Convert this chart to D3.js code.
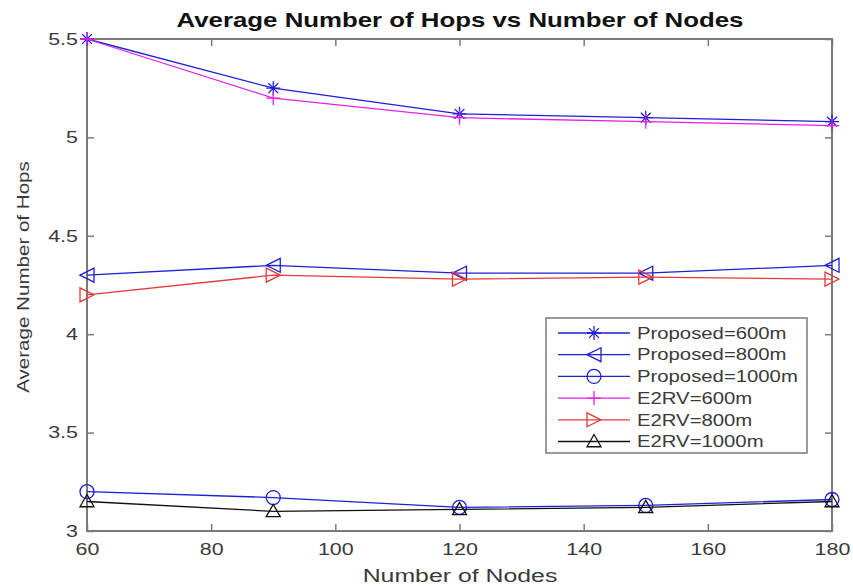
<!DOCTYPE html>
<html>
<head>
<meta charset="utf-8">
<script src="https://cdn.jsdelivr.net/npm/d3@7"></script>
<style>
  html, body { margin: 0; padding: 0; background: #fff; }
  svg { display: block; font-family: Arial, "Liberation Sans", Helvetica, sans-serif; }
</style>
</head>
<body>
<svg id="chart" width="853" height="587"></svg>
<script>
// Number of nodes on the x axis
const nodes = [60, 90, 120, 150, 180];

// Average number of hops per configuration
const proposed600 = [5.50, 5.25, 5.12, 5.10, 5.08];
const proposed800 = [4.30, 4.35, 4.31, 4.31, 4.35];
const proposed1000 = [3.20, 3.17, 3.12, 3.13, 3.16];
const e2rv600 = [5.50, 5.20, 5.10, 5.08, 5.06];
const e2rv800 = [4.20, 4.30, 4.28, 4.29, 4.28];
const e2rv1000 = [3.15, 3.10, 3.11, 3.12, 3.15];

const seriesNames = ["Proposed=600m", "Proposed=800m", "Proposed=1000m", "E2RV=600m", "E2RV=800m", "E2RV=1000m"];

const xTicks = [60, 80, 100, 120, 140, 160, 180];
const yTicks = [3, 3.5, 4, 4.5, 5, 5.5];

const series = [
  { name: seriesNames[0], values: proposed600, color: "#1f1fd6", marker: "star" },
  { name: seriesNames[1], values: proposed800, color: "#1f1fd6", marker: "triLeft" },
  { name: seriesNames[2], values: proposed1000, color: "#1f1fd6", marker: "circle" },
  { name: seriesNames[3], values: e2rv600, color: "#e620e6", marker: "plus" },
  { name: seriesNames[4], values: e2rv800, color: "#e23a3a", marker: "triRight" },
  { name: seriesNames[5], values: e2rv1000, color: "#111111", marker: "triUp" }
];

const svg = d3.select("#chart");
const m = { left: 87, right: 853 - 832, top: 39, bottom: 587 - 531 };
const W = 853 - m.left - m.right, H = 587 - m.top - m.bottom;

const x = d3.scaleLinear().domain([60, 180]).range([m.left, m.left + W]);
const y = d3.scaleLinear().domain([3, 5.5]).range([m.top + H, m.top]);

const axisColor = "#7a7a7a";
const textColor = "#3a3a3a";
const wide = 1.3; // horizontal stretch of the lettering

// axes box with inward ticks (bottom/left labelled, top/right unlabelled)
function styleAxis(g, labels, horizontal) {
  g.select(".domain").remove();
  g.selectAll(".tick line").attr("stroke", axisColor).attr("stroke-width", 1.5);
  const t = g.selectAll(".tick text");
  if (!labels) { t.remove(); return; }
  t.attr("fill", textColor)
    .style("font-size", "16.5px")
    .style("font-family", "Arial, 'Liberation Sans', sans-serif");
  if (horizontal) {
    t.attr("transform", `scale(${wide},1)`);
  } else {
    t.each(function () {
      const el = d3.select(this);
      const ox = +el.attr("x");
      el.attr("x", 0).attr("transform", `translate(${ox},0) scale(${wide},1)`);
    });
  }
}

const fmtY = d => (d % 1 === 0 ? d3.format("d")(d) : d3.format(".1f")(d));

svg.append("g").attr("transform", `translate(0,${m.top + H})`)
  .call(d3.axisBottom(x).tickValues(xTicks).tickSize(-7).tickPadding(12).tickFormat(d3.format("d")))
  .call(g => styleAxis(g, true, true));
svg.append("g").attr("transform", `translate(0,${m.top})`)
  .call(d3.axisTop(x).tickValues(xTicks).tickSize(-7).tickFormat(""))
  .call(g => styleAxis(g, false));
svg.append("g").attr("transform", `translate(${m.left},0)`)
  .call(d3.axisLeft(y).tickValues(yTicks).tickSize(-7).tickPadding(9).tickFormat(fmtY))
  .call(g => styleAxis(g, true, false));
svg.append("g").attr("transform", `translate(${m.left + W},0)`)
  .call(d3.axisRight(y).tickValues(yTicks).tickSize(-7).tickFormat(""))
  .call(g => styleAxis(g, false));

svg.append("rect")
  .attr("x", m.left).attr("y", m.top).attr("width", W).attr("height", H)
  .attr("fill", "none").attr("stroke", axisColor).attr("stroke-width", 2);

// marker drawing
function drawMarker(g, type, cx, cy, color) {
  const s = 7;
  if (type === "star") {
    const p = d3.path();
    p.moveTo(cx - s, cy); p.lineTo(cx + s, cy);
    p.moveTo(cx, cy - s); p.lineTo(cx, cy + s);
    p.moveTo(cx - s * 0.7, cy - s * 0.7); p.lineTo(cx + s * 0.7, cy + s * 0.7);
    p.moveTo(cx - s * 0.7, cy + s * 0.7); p.lineTo(cx + s * 0.7, cy - s * 0.7);
    g.append("path").attr("d", p.toString()).attr("stroke", color).attr("stroke-width", 1.3).attr("fill", "none");
  } else if (type === "plus") {
    const p = d3.path();
    p.moveTo(cx - s, cy); p.lineTo(cx + s, cy);
    p.moveTo(cx, cy - s); p.lineTo(cx, cy + s);
    g.append("path").attr("d", p.toString()).attr("stroke", color).attr("stroke-width", 1.3).attr("fill", "none");
  } else if (type === "circle") {
    g.append("circle").attr("cx", cx).attr("cy", cy).attr("r", s)
      .attr("stroke", color).attr("stroke-width", 1.3).attr("fill", "none");
  } else {
    let pts;
    if (type === "triLeft") pts = [[cx - s, cy], [cx + s, cy - s], [cx + s, cy + s]];
    else if (type === "triRight") pts = [[cx + s, cy], [cx - s, cy - s], [cx - s, cy + s]];
    else pts = [[cx, cy - s], [cx - s, cy + s * 0.75], [cx + s, cy + s * 0.75]];
    g.append("polygon").attr("points", pts.map(q => q.join(",")).join(" "))
      .attr("stroke", color).attr("stroke-width", 1.3).attr("fill", "none");
  }
}

const line = d3.line().x((d, i) => x(nodes[i])).y(d => y(d));

const plot = svg.append("g");
series.forEach(s => {
  plot.append("path").datum(s.values).attr("d", line)
    .attr("fill", "none").attr("stroke", s.color).attr("stroke-width", 1.3);
  const mg = plot.append("g");
  s.values.forEach((v, i) => drawMarker(mg, s.marker, x(nodes[i]), y(v), s.color));
});

// stretched text placed at (px, py)
function label(parent, px, py, str, size, sx, opts = {}) {
  return parent.append("text")
    .attr("transform", `translate(${px},${py})${opts.rotate ? ` rotate(${opts.rotate})` : ""} scale(${sx},1)`)
    .attr("text-anchor", opts.anchor || "start")
    .attr("dy", opts.dy || null)
    .attr("fill", opts.fill || textColor)
    .style("font-size", size + "px")
    .style("font-weight", opts.bold ? "bold" : null)
    .text(str);
}

// legend
const lg = svg.append("g");
const lx = 546, ly = 318, lw = 261, lh = 135, step = 21.7;
lg.append("rect").attr("x", lx).attr("y", ly).attr("width", lw).attr("height", lh)
  .attr("fill", "#fff").attr("stroke", axisColor).attr("stroke-width", 1.5);
series.forEach((s, i) => {
  const yy = ly + 15 + i * step;
  lg.append("line").attr("x1", lx + 12).attr("x2", lx + 84).attr("y1", yy).attr("y2", yy)
    .attr("stroke", s.color).attr("stroke-width", 1.3);
  drawMarker(lg, s.marker, lx + 48, yy, s.color);
  label(lg, lx + 91, yy, s.name, 16, 1.27, { dy: "0.36em" });
});

// titles
label(svg, 460, 27, "Average Number of Hops vs Number of Nodes", 21, 1.23, { anchor: "middle", bold: true, fill: "#111" });
label(svg, 460, 582, "Number of Nodes", 18, 1.38, { anchor: "middle" });
label(svg, 29, 277, "Average Number of Hops", 17, 1.21, { anchor: "middle", rotate: -90 });
</script>
</body>
</html>
